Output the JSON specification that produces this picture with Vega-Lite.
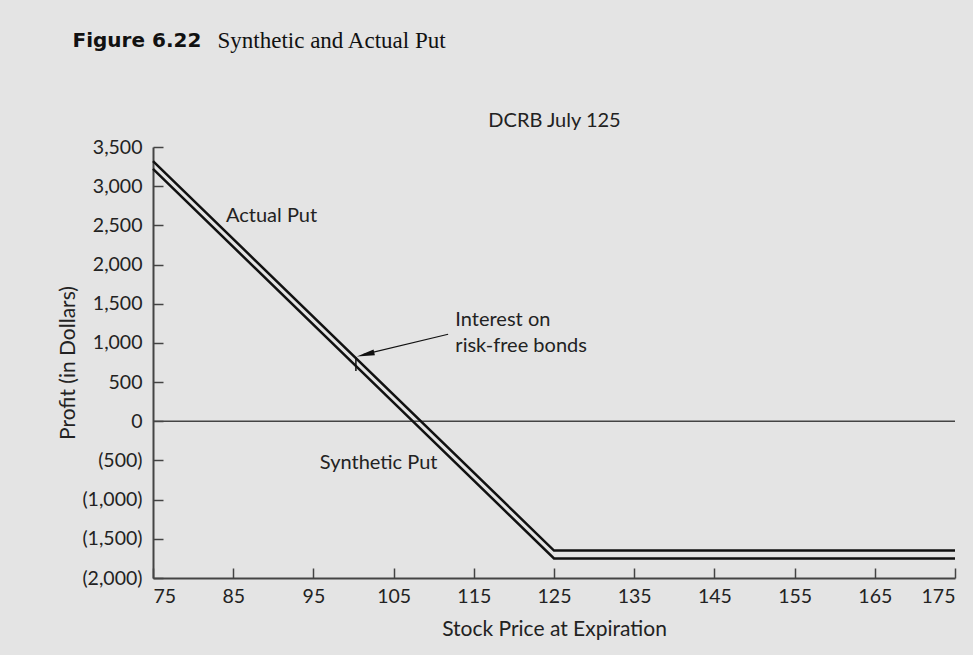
{
  "$schema": "https://vega.github.io/schema/vega-lite/v6.json",
  "width": 802,
  "height": 431,
  "autosize": {"type": "none"},
  "padding": {"left": 153, "top": 147, "right": 18, "bottom": 77},
  "background": "#e4e4e4",
  "config": {
    "view": {"stroke": null},
    "axis": {
      "labelFont": "Lato", "labelFontSize": 19.5, "labelColor": "#222",
      "titleFont": "Lato", "titleFontSize": 20, "titleFontWeight": "normal", "titleColor": "#222",
      "domainColor": "#444", "domainWidth": 2, "tickColor": "#444", "tickWidth": 1.5,
      "grid": false
    }
  },
  "datasets": {
    "puts": [
      {"series": "Actual Put", "price": 75, "profit": 3320},
      {"series": "Actual Put", "price": 125, "profit": -1650},
      {"series": "Actual Put", "price": 175, "profit": -1650},
      {"series": "Synthetic Put", "price": 75, "profit": 3220},
      {"series": "Synthetic Put", "price": 125, "profit": -1750},
      {"series": "Synthetic Put", "price": 175, "profit": -1750}
    ],
    "labels": [
      {"label": "Actual Put", "price": 84.1, "profit": 2620},
      {"label": "Synthetic Put", "price": 95.8, "profit": -536},
      {"label": "Interest on", "price": 112.7, "profit": 1290},
      {"label": "risk-free bonds", "price": 112.7, "profit": 960}
    ]
  },
  "layer": [
    {
      "data": {"values": [{"zero": 0}]},
      "mark": {"type": "rule", "color": "#444", "strokeWidth": 1.5},
      "encoding": {"y": {"field": "zero", "type": "quantitative", "scale": {"domain": [-2000, 3500], "nice": false}, "axis": null}}
    },
    {
      "data": {"name": "puts"},
      "mark": {"type": "line", "color": "#111", "strokeWidth": 2.5},
      "encoding": {
        "x": {"field": "price", "type": "quantitative", "scale": {"domain": [75, 175], "nice": false, "zero": false},
          "axis": {"title": "Stock Price at Expiration", "titleFontSize": 21, "values": [75, 85, 95, 105, 115, 125, 135, 145, 155, 165, 175], "tickSize": -10, "labelPadding": 19, "titleY": 51, "titleBaseline": "middle"}},
        "y": {"field": "profit", "type": "quantitative", "scale": {"domain": [-2000, 3500], "nice": false},
          "axis": {"title": "Profit (in Dollars)", "titleFontSize": 21, "values": [-2000, -1500, -1000, -500, 0, 500, 1000, 1500, 2000, 2500, 3000, 3500], "tickSize": -10, "labelPadding": 21,
            "labelExpr": "datum.value < 0 ? '(' + format(-datum.value, ',') + ')' : format(datum.value, ',')", "titleX": -85, "titleBaseline": "middle"}},
        "detail": {"field": "series"}
      }
    },
    {
      "data": {"values": [{"price": 100.3, "top": 820, "bottom": 640}]},
      "mark": {"type": "rule", "color": "#111", "strokeWidth": 1.5},
      "encoding": {
        "x": {"field": "price", "type": "quantitative",
          "axis": {"orient": "top", "domain": false, "ticks": false, "labels": false, "title": "DCRB July 125", "titleY": -27, "titleBaseline": "middle", "titleFontSize": 20}},
        "y": {"field": "top", "type": "quantitative", "axis": null},
        "y2": {"field": "bottom"}
      }
    },
    {
      "data": {"values": [{"from": 111.8, "fromP": 1110, "to": 101.2, "toP": 850}]},
      "mark": {"type": "rule", "color": "#111", "strokeWidth": 1.2},
      "encoding": {
        "x": {"field": "from", "type": "quantitative", "axis": null},
        "y": {"field": "fromP", "type": "quantitative", "axis": null},
        "x2": {"field": "to"},
        "y2": {"field": "toP"}
      }
    },
    {
      "data": {"values": [{"price": 101.5, "profit": 852}]},
      "mark": {"type": "point", "shape": "M-1,0 L1,-0.32 L1,0.32 Z", "filled": true, "color": "#111", "opacity": 1, "size": 320, "angle": -13.6},
      "encoding": {
        "x": {"field": "price", "type": "quantitative", "axis": null},
        "y": {"field": "profit", "type": "quantitative", "axis": null}
      }
    },
    {
      "data": {"name": "labels"},
      "mark": {"type": "text", "align": "left", "baseline": "middle", "font": "Lato", "fontSize": 20, "color": "#222"},
      "encoding": {
        "x": {"field": "price", "type": "quantitative",
          "axis": {"orient": "top", "domain": false, "ticks": false, "labels": false, "title": "Figure 6.22", "titleX": -81, "titleY": -107, "titleAlign": "left", "titleAnchor": null, "titleBaseline": "middle", "titleFont": "DejaVu Sans", "titleFontWeight": "bold", "titleFontSize": 20, "titleColor": "#111"}},
        "y": {"field": "profit", "type": "quantitative",
          "axis": {"orient": "right", "domain": false, "ticks": false, "labels": false, "title": "Synthetic and Actual Put", "titleAngle": 0, "titleX": -738, "titleY": -107, "titleAlign": "left", "titleBaseline": "middle", "titleFont": "Liberation Serif", "titleFontWeight": "normal", "titleFontSize": 23, "titleColor": "#111"}},
        "text": {"field": "label"}
      }
    }
  ],
  "resolve": {"axis": {"x": "independent", "y": "independent"}}
}
